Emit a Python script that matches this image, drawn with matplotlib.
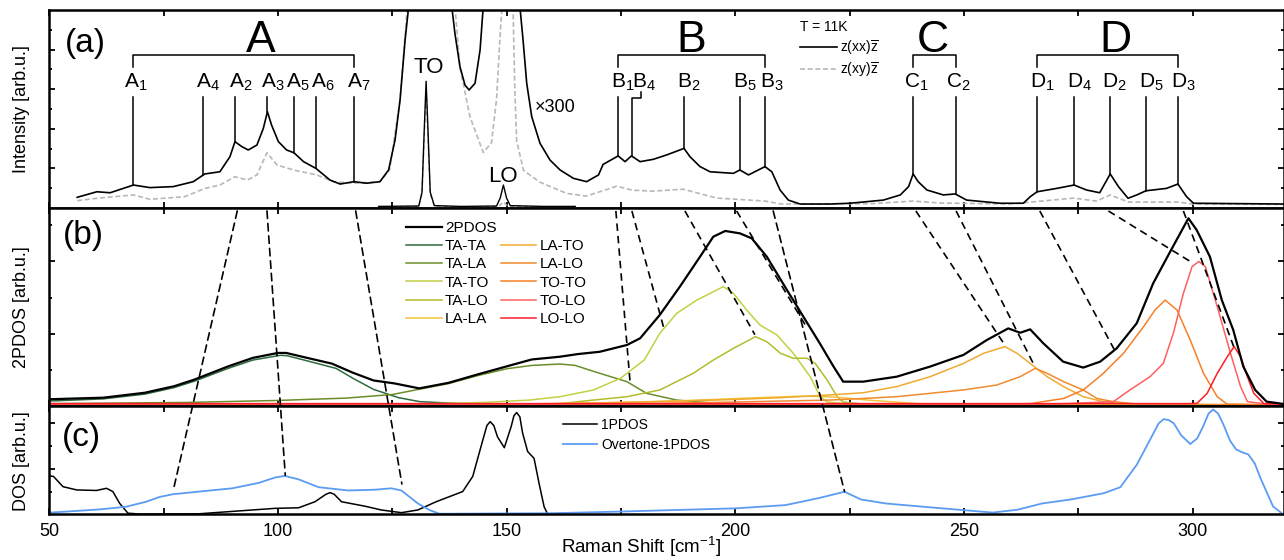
import numpy as np
import matplotlib
matplotlib.use('Agg')
import matplotlib.pyplot as plt
from matplotlib.lines import Line2D
from matplotlib.patches import ConnectionPatch
from matplotlib.ticker import MultipleLocator, FixedLocator, FuncFormatter

plt.rcParams['font.family'] = ['Liberation Sans', 'DejaVu Sans']
plt.rcParams['mathtext.fontset'] = 'custom'
plt.rcParams['mathtext.rm'] = 'Liberation Sans'

# ---------------- panel (a): Raman spectra ----------------
# x300 spectra
xx_x = [56.1, 60.4, 63.3, 68.4, 72.0, 77.1, 81.5, 84.0, 87.3, 89.5, 90.6, 92.1, 93.5, 95.4, 96.8,
        97.7, 98.6, 100.1, 101.9, 103.5, 105.6, 108.3, 111.4, 113.6, 116.6, 119.4, 122.3, 124.2,
        125.6, 126.7, 127.8, 128.6, 129.5, 137.2, 138.0, 138.7, 139.8, 140.9, 141.8, 143.1, 144.2,
        144.9, 145.8, 152.0, 152.9, 153.6, 154.4, 155.5, 157.3, 159.5, 161.7, 164.6, 167.5, 170.1,
        171.1, 174.4, 175.9, 177.3, 179.2, 182.1, 185.0, 188.8, 190.1, 192.3, 194.5, 199.6, 201.0,
        202.9, 206.5, 208.0, 209.8, 211.6, 214.2, 220.7, 225.1, 232.4, 236.1, 237.9, 238.9, 240.0,
        241.9, 245.5, 248.1, 250.6, 257.9, 263.0, 264.5, 266.0, 270.3, 274.1, 276.8, 279.7, 282.0,
        283.8, 285.9, 287.8, 289.8, 294.3, 296.8, 298.7, 300.2, 320.0]
xx_y = [0.054, 0.082, 0.077, 0.116, 0.103, 0.108, 0.133, 0.172, 0.183, 0.259, 0.335, 0.31, 0.293,
        0.318, 0.402, 0.486, 0.419, 0.335, 0.293, 0.279, 0.234, 0.20, 0.141, 0.121, 0.133, 0.125,
        0.133, 0.192, 0.343, 0.545, 0.848, 1.02, 1.3, 1.3, 1.02, 0.882, 0.714, 0.621, 0.596, 0.63,
        0.798, 1.02, 1.3, 1.3, 1.02, 0.848, 0.63, 0.461, 0.327, 0.242, 0.192, 0.15, 0.133, 0.167,
        0.22, 0.263, 0.234, 0.263, 0.234, 0.246, 0.268, 0.301, 0.259, 0.209, 0.183, 0.175, 0.192,
        0.167, 0.209, 0.183, 0.091, 0.04, 0.02, 0.02, 0.024, 0.04, 0.066, 0.108, 0.172, 0.133,
        0.091, 0.066, 0.071, 0.04, 0.024, 0.024, 0.057, 0.082, 0.099, 0.116, 0.091, 0.077, 0.172,
        0.108, 0.049, 0.066, 0.087, 0.099, 0.121, 0.057, 0.024, 0.02]

xy_x = [56.1, 60.4, 68.4, 72.0, 79.6, 84.0, 87.3, 90.6, 93.3, 95.4, 97.6, 99.8, 103.4, 108.5, 112.1,
        116.5, 122.3, 124.4, 126.7, 128.3, 129.3, 137.8, 138.7, 139.8, 142.0, 144.9, 146.7, 147.8,
        148.6, 149.0, 149.6, 150.8, 151.4, 151.8, 152.2, 153.7, 157.3, 163.1, 167.4, 174.1, 177.5,
        182.0, 188.6, 196.0, 206.5, 210.0, 230.0, 238.9, 245.0, 260.0, 274.0, 279.0, 282.0, 286.0,
        296.8, 300.0, 320.0]
xy_y = [0.037, 0.049, 0.066, 0.044, 0.057, 0.099, 0.116, 0.158, 0.141, 0.167, 0.279, 0.217, 0.192,
        0.167, 0.133, 0.125, 0.133, 0.192, 0.545, 1.02, 1.3, 1.3, 1.02, 0.71, 0.46, 0.28, 0.33,
        0.55, 0.88, 1.02, 1.3, 1.3, 1.02, 0.6, 0.34, 0.19, 0.13, 0.074, 0.06, 0.11, 0.09, 0.085,
        0.095, 0.05, 0.035, 0.02, 0.022, 0.035, 0.025, 0.02, 0.05, 0.035, 0.066, 0.03, 0.03, 0.02,
        0.018]

# unscaled spectra (TO and LO lines)
raw_x = [122.0, 130.8, 131.5, 132.0, 132.4, 132.8, 133.3, 134.2, 140.0, 147.8, 148.6, 149.3, 150.0,
         150.8, 158.0, 165.0]
raw_xx = [0.008, 0.01, 0.08, 0.4, 0.64, 0.4, 0.08, 0.012, 0.008, 0.01, 0.05, 0.116, 0.05, 0.012,
          0.008, 0.008]
raw_xy = [0.006, 0.008, 0.07, 0.36, 0.6, 0.36, 0.07, 0.01, 0.006, 0.008, 0.015, 0.03, 0.015, 0.008,
          0.006, 0.006]

# mode labels: (letter, index, line x, text x)
groups = {
    'A': [('A', '1', 68.2, 68.9), ('A', '4', 83.7, 84.8), ('A', '2', 90.6, 91.8), ('A', '3', 97.7, 98.8),
          ('A', '5', 103.5, 104.4), ('A', '6', 108.3, 109.9), ('A', '7', 116.6, 117.7)],
    'B': [('B', '1', 174.4, 175.3), ('B', '4', 177.35, 180.0), ('B', '2', 188.8, 189.9),
          ('B', '5', 201.0, 202.0), ('B', '3', 206.6, 208.0)],
    'C': [('C', '1', 238.9, 239.5), ('C', '2', 248.3, 248.8)],
    'D': [('D', '1', 266.0, 267.2), ('D', '4', 274.1, 275.2), ('D', '2', 282.0, 282.9),
          ('D', '5', 289.8, 290.9), ('D', '3', 296.8, 298.1)],
}
group_x = {'A': 96.3, 'B': 190.3, 'C': 243.3, 'D': 283.1}

# ---------------- panel (b): 2PDOS ----------------
pd2_x = [50, 61.8, 70.9, 77.3, 81.8, 89.1, 94.5, 100.0, 101.8, 106.4, 111.8, 116.4, 120.9, 125.5,
         130.9, 137.3, 143.6, 150.0, 155.5, 161.7, 165.5, 170.4, 176.3, 179.2, 183.5, 187.9, 192.3,
         195.2, 197.8, 201.0, 203.6, 206.9, 211.3, 214.9, 218.5, 221.5, 223.6, 228.0, 235.3, 242.6,
         249.9, 255.0, 259.7, 262.3, 264.5, 267.4, 271.7, 276.1, 279.8, 283.4, 287.8, 291.4, 295.1,
         297.3, 299.1, 300.9, 303.8, 306.4, 308.9, 311.1, 313.7, 316.2, 320]
pd2_y = [0.034, 0.042, 0.067, 0.10, 0.134, 0.20, 0.243, 0.268, 0.268, 0.243, 0.214, 0.168, 0.129,
         0.114, 0.089, 0.117, 0.159, 0.20, 0.235, 0.249, 0.262, 0.274, 0.308, 0.342, 0.46, 0.603,
         0.754, 0.855, 0.884, 0.872, 0.847, 0.754, 0.586, 0.451, 0.316, 0.199, 0.123, 0.123, 0.148,
         0.199, 0.258, 0.333, 0.392, 0.37, 0.387, 0.316, 0.224, 0.194, 0.224, 0.291, 0.418, 0.62,
         0.779, 0.872, 0.948, 0.889, 0.754, 0.535, 0.384, 0.199, 0.081, 0.022, 0.01]

tata_x = [50, 61.8, 70.9, 77.3, 81.8, 89.1, 94.5, 100.5, 102, 106.4, 112.7, 116.4, 120.9, 126.4,
          131, 140, 160, 320]
tata_y = [0.025, 0.036, 0.06, 0.093, 0.126, 0.19, 0.232, 0.256, 0.254, 0.228, 0.19, 0.14, 0.084,
          0.042, 0.022, 0.012, 0.008, 0.005]

tala_x = [50, 80, 100, 115, 125, 131, 137.3, 143.6, 150, 155.5, 161.7, 165, 169, 176.3, 180.6,
          187.2, 195, 210, 320]
tala_y = [0.012, 0.018, 0.028, 0.04, 0.058, 0.085, 0.113, 0.153, 0.188, 0.205, 0.212, 0.205, 0.175,
          0.123, 0.064, 0.03, 0.015, 0.008, 0.005]

tato_x = [50, 130, 145, 155, 161.7, 169, 174.9, 180.1, 183.5, 187.2, 191.6, 195.2, 197.4, 199.6,
          202.5, 205.4, 209.1, 212.7, 216.4, 218.6, 220.1, 225, 320]
tato_y = [0.008, 0.01, 0.018, 0.03, 0.047, 0.081, 0.14, 0.232, 0.367, 0.468, 0.535, 0.577, 0.603,
          0.569, 0.485, 0.409, 0.359, 0.266, 0.148, 0.047, 0.02, 0.01, 0.005]

talo_x = [50, 150, 161.7, 169, 176.3, 183.5, 190.8, 195.2, 199.6, 204.4, 206.9, 209.9, 212.7, 215.7,
          217.5, 220.1, 222.3, 223.6, 228, 320]
talo_y = [0.008, 0.01, 0.012, 0.03, 0.047, 0.081, 0.165, 0.232, 0.291, 0.35, 0.325, 0.266, 0.241,
          0.241, 0.215, 0.131, 0.047, 0.02, 0.01, 0.005]

lala_x = [50, 150, 170, 190, 205, 215, 222, 230, 240, 250, 320]
lala_y = [0.006, 0.008, 0.015, 0.028, 0.042, 0.05, 0.045, 0.028, 0.012, 0.006, 0.004]

lato_x = [50, 140, 160, 180, 200, 210, 220.7, 228, 235.3, 242.6, 249.9, 254.3, 259, 261.6, 264.5,
          268.2, 271.8, 276.1, 280.5, 285, 320]
lato_y = [0.006, 0.008, 0.012, 0.02, 0.033, 0.042, 0.056, 0.067, 0.098, 0.148, 0.215, 0.266, 0.30,
          0.266, 0.215, 0.148, 0.098, 0.047, 0.022, 0.01, 0.005]

lalo_x = [50, 160, 180, 200, 220.7, 228, 235.3, 242.6, 249.9, 257.2, 262.3, 265.6, 268.2, 271.8,
          276.1, 279.1, 282.7, 288, 320]
lalo_y = [0.006, 0.008, 0.012, 0.02, 0.03, 0.038, 0.047, 0.064, 0.081, 0.106, 0.148, 0.19, 0.165,
          0.123, 0.081, 0.038, 0.022, 0.01, 0.005]

toto_x = [50, 250, 264.5, 271.8, 276.1, 280.5, 284.9, 289.3, 291.8, 294, 296.6, 299.5, 302.4, 305.4,
          307.5, 320]
toto_y = [0.008, 0.008, 0.012, 0.038, 0.081, 0.165, 0.266, 0.401, 0.485, 0.535, 0.485, 0.333, 0.165,
          0.047, 0.01, 0.006]

tolo_x = [50, 270, 282.7, 286.3, 290.7, 293.6, 295.8, 298, 299.9, 301.4, 302.8, 305.4, 308.3, 310.5,
          312, 316, 320]
tolo_y = [0.01, 0.01, 0.022, 0.081, 0.148, 0.215, 0.367, 0.569, 0.704, 0.73, 0.704, 0.502, 0.266,
          0.098, 0.022, 0.01, 0.008]

lolo_x = [50, 299, 301, 303.2, 305.4, 307.6, 309.1, 310.5, 312, 313.4, 315.6, 320]
lolo_y = [0.012, 0.012, 0.014, 0.064, 0.165, 0.249, 0.30, 0.249, 0.148, 0.064, 0.012, 0.01]

components = [
    ('TA-TA', tata_x, tata_y, '#2d6a3e'),
    ('TA-LA', tala_x, tala_y, '#6b8e2a'),
    ('TA-TO', tato_x, tato_y, '#c4d044'),
    ('TA-LO', talo_x, talo_y, '#b2bc2c'),
    ('LA-LA', lala_x, lala_y, '#f3c437'),
    ('LA-TO', lato_x, lato_y, '#f0aa30'),
    ('LA-LO', lalo_x, lalo_y, '#f08a2e'),
    ('TO-TO', toto_x, toto_y, '#f77f26'),
    ('TO-LO', tolo_x, tolo_y, '#ff5f5f'),
    ('LO-LO', lolo_x, lolo_y, '#ff1c2a'),
]

# ---------------- panel (c): DOS ----------------
dos1_x = [50.1, 50.9, 53, 56, 60.3, 62.5, 63.9, 65.4, 67.2, 70, 82.8, 99.4, 104.5, 108.1, 110.5,
          111.4, 112.3, 113.9, 119, 122.6, 127, 130.6, 134.6, 140.4, 142.6, 144.8, 145.7, 146.4,
          147.2, 148, 149.5, 151, 151.6, 152.2, 152.9, 153.5, 154.6, 156, 157.1, 158.2, 159]
dos1_y = [0.354, 0.35, 0.255, 0.225, 0.22, 0.24, 0.21, 0.10, 0.01, 0.002, 0.005, 0.055, 0.06, 0.116,
          0.185, 0.20, 0.185, 0.116, 0.075, 0.04, 0.015, 0.04, 0.116, 0.21, 0.35, 0.686, 0.82, 0.855,
          0.82, 0.716, 0.615, 0.81, 0.91, 0.94, 0.9, 0.75, 0.58, 0.517, 0.286, 0.07, 0.0]

ovt_x = [50, 61, 66.8, 71.2, 74.1, 77, 82.8, 90, 95.8, 99.4, 101.5, 104.5, 108.9, 115.4, 121.2, 124.8,
         127, 130.6, 133.1, 135.3, 160, 174.6, 200.1, 211, 218.3, 223.9, 227.5, 232.9, 241.9, 250.9,
         256.3, 261.7, 267.1, 273.4, 280.6, 284.2, 287.8, 291.4, 292.6, 293.7, 294.8, 295.9, 297.5,
         299.5, 301.0, 302.3, 303.5, 304.5, 305.6, 306.8, 308.2, 309.5, 311.0, 312.2, 313.6, 314.9,
         317.6, 319.8]
ovt_y = [0.015, 0.045, 0.07, 0.116, 0.16, 0.185, 0.21, 0.24, 0.29, 0.34, 0.354, 0.323, 0.25, 0.22,
         0.227, 0.24, 0.22, 0.10, 0.04, 0.005, 0.01, 0.025, 0.055, 0.085, 0.15, 0.208, 0.137, 0.10,
         0.067, 0.035, 0.016, 0.042, 0.10, 0.137, 0.195, 0.25, 0.457, 0.744, 0.84, 0.879, 0.87, 0.84,
         0.73, 0.649, 0.7, 0.81, 0.93, 0.968, 0.93, 0.824, 0.68, 0.60, 0.57, 0.553, 0.47, 0.33,
         0.073, 0.0]

# dashed guides: (x at top of b, x end, y end)
guides_c = [(91.1, 77.1, 0.22), (97.6, 101.6, 0.36), (117.0, 127.1, 0.28), (208.3, 223.9, 0.21)]
guides_b = [(173.9, 177.0, 0.12), (177.4, 184.3, 0.40), (189.0, 204.3, 0.36), (200.3, 215.3, 0.41),
            (239.5, 258.6, 0.32), (248.3, 265.5, 0.20), (266.6, 283.0, 0.28), (281.6, 300.2, 0.72),
            (298.0, 309.0, 0.30)]

# ---------------- figure ----------------
fig = plt.figure(figsize=(12.84, 5.6), dpi=100)
L, W = 49.3 / 1284, 1 - 49.3 / 1284
ax_a = fig.add_axes([L, 1 - 208 / 560, W, 198 / 560])
ax_b = fig.add_axes([L, 1 - 406 / 560, W, 198 / 560])
ax_c = fig.add_axes([L, 1 - 514.3 / 560, W, 108.3 / 560])

for ax in (ax_a, ax_b, ax_c):
    ax.set_xlim(50, 320)
    ax.set_ylim(0, 1)
    ax.xaxis.set_major_locator(MultipleLocator(25))
    ax.tick_params(direction='in', top=True, right=True, which='both', width=1.3)
    ax.tick_params(which='major', length=4.5)
    ax.tick_params(which='minor', length=2.5)
    ax.tick_params(axis='y', labelleft=False)
    for s in ax.spines.values():
        s.set_linewidth(1.8)
ax_a.tick_params(labelbottom=False)
ax_b.tick_params(labelbottom=False)
ax_c.xaxis.set_major_formatter(FuncFormatter(lambda v, p: f'{v:.0f}' if v % 50 == 0 else ''))
ax_c.tick_params(axis='x', labelsize=13, pad=6)

ax_a.yaxis.set_major_locator(FixedLocator([0.2, 0.4, 0.6, 0.8]))
ax_a.yaxis.set_minor_locator(FixedLocator([0.1, 0.3, 0.5, 0.7, 0.9]))
ax_b.yaxis.set_major_locator(FixedLocator([0.365, 0.73]))
ax_b.yaxis.set_minor_locator(FixedLocator([0.1825, 0.5475, 0.9125]))
ax_c.yaxis.set_major_locator(FixedLocator([0.42, 0.84]))
ax_c.yaxis.set_minor_locator(FixedLocator([0.21, 0.63]))

# (a)
ax_a.plot(raw_x, raw_xy, color='#a8a8a8', lw=1.0, ls=(0, (3, 2)))
ax_a.plot(raw_x, raw_xx, color='black', lw=1.0)
ax_a.plot(xy_x, xy_y, color='#b8b8b8', lw=1.2, ls=(0, (3, 1.6)))
ax_a.plot(xx_x, xx_y, color='black', lw=1.2)

lab_top = 0.562
for g, labs in groups.items():
    for letter, sub, lx, tx in labs:
        yc = np.interp(lx, xx_x, xx_y)
        if letter == 'B' and sub == '4':
            ax_a.plot([179.5, 179.5, lx, lx], [0.585, 0.554, 0.554, yc], color='black', lw=1.1)
        else:
            ax_a.plot([lx, lx], [lab_top, yc], color='black', lw=1.1)
        ax_a.text(tx, 0.607, f'{letter}$_\\mathregular{{{sub}}}$', ha='center', va='baseline',
                  fontsize=15)
    x0, x1 = labs[0][2], labs[-1][2]
    ax_a.plot([x0, x0, x1, x1], [0.712, 0.773, 0.773, 0.712], color='black', lw=1.1)
    ax_a.text(group_x[g], 0.789, g, ha='center', va='baseline', fontsize=32)

ax_a.text(132.9, 0.68, 'TO', ha='center', va='baseline', fontsize=16)
ax_a.text(149.2, 0.133, 'LO', ha='center', va='baseline', fontsize=16)
ax_a.text(156.2, 0.485, '×300', ha='left', va='baseline', fontsize=13)
ax_a.text(53.4, 0.83, '(a)', ha='left', va='center', fontsize=24)

leg_a = ax_a.legend(handles=[Line2D([], [], color='black', lw=1.2),
                             Line2D([], [], color='#b8b8b8', lw=1.2, ls=(0, (3, 1.6)))],
                    labels=['z(xx)$\\overline{\\mathregular{z}}$', 'z(xy)$\\overline{\\mathregular{z}}$'],
                    title='T = 11K', alignment='left', loc='upper left', bbox_to_anchor=(0.608, 0.95),
                    frameon=False, fontsize=10, title_fontsize=10, handlelength=2.7,
                    handletextpad=0.2, borderpad=0, borderaxespad=0, labelspacing=0.3)

# (b)
h_b = [ax_b.plot(pd2_x, pd2_y, color='black', lw=1.6, zorder=5)[0]]
for name, cx, cy, col in components:
    h_b.append(ax_b.plot(cx, cy, color=col, lw=1.1)[0])
ax_b.text(52.9, 0.86, '(b)', ha='left', va='center', fontsize=24)
blank = Line2D([], [], color='none')
handles = h_b[:6] + [blank] + h_b[6:]
labels = ['2PDOS'] + [c[0] for c in components[:5]] + [''] + [c[0] for c in components[5:]]
ax_b.legend(handles=handles, labels=labels, ncol=2, loc='upper left', bbox_to_anchor=(0.289, 0.935),
            frameon=False, fontsize=11, handlelength=2.35, handletextpad=0.2, borderpad=0,
            borderaxespad=0, labelspacing=0.28, columnspacing=0.25)

for xt, xe, ye in guides_b:
    ax_b.plot([xt, xe], [0.985, ye], color='black', lw=1.2, ls=(0, (4.5, 3)))
for xt, xe, ye in guides_c:
    cp = ConnectionPatch(xyA=(xt, 0.985), coordsA=ax_b.transData, xyB=(xe, ye),
                         coordsB=ax_c.transData, color='black', lw=1.2, ls=(0, (4.5, 3)))
    fig.add_artist(cp)

# (c)
ax_c.plot(dos1_x, dos1_y, color='black', lw=1.1, label='1PDOS')
ax_c.plot(ovt_x, ovt_y, color='#5b9cf2', lw=1.3, label='Overtone-1PDOS')
ax_c.text(52.8, 0.71, '(c)', ha='left', va='center', fontsize=24)
ax_c.legend(loc='upper left', bbox_to_anchor=(0.416, 0.89), frameon=False, fontsize=10,
            handlelength=2.45, handletextpad=0.3, borderpad=0, borderaxespad=0, labelspacing=0.45)

fig.text(21.5 / 1284, 1 - 109 / 560, 'Intensity [arb.u.]', rotation=90, ha='center', va='center',
         fontsize=13)
fig.text(21.5 / 1284, 1 - 307 / 560, '2PDOS [arb.u.]', rotation=90, ha='center', va='center',
         fontsize=13)
fig.text(21.5 / 1284, 1 - 461 / 560, 'DOS [arb.u.]', rotation=90, ha='center', va='center',
         fontsize=13)
fig.text(641 / 1284, 1 - 547 / 560, 'Raman Shift [cm$^\\mathregular{-1}$]', ha='center', va='center',
         fontsize=13.5)

fig.savefig('out.png', dpi=100)
